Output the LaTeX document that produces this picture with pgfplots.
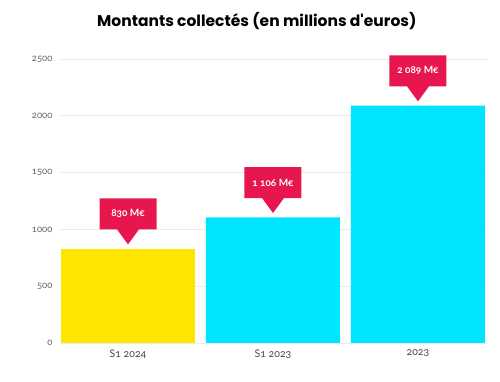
\documentclass[border=0pt]{standalone}
\usepackage{fontspec}
\setmainfont[Numbers=OldStyle]{Lato}
\newfontfamily\titlefont{Poppins}
\usepackage{pgfplots}
\pgfplotsset{compat=1.18}
\usetikzlibrary{shapes.callouts}
\definecolor{cyellow}{HTML}{FFE600}
\definecolor{ccyan}{HTML}{00E5FF}
\definecolor{cred}{HTML}{E8164F}
\definecolor{cgrid}{HTML}{EBEBEB}
\definecolor{ctick}{HTML}{666666}
\begin{document}
\begin{tikzpicture}
\useasboundingbox (-60pt,-39pt) rectangle (440pt,343pt);
\begin{axis}[
  at={(0,0)}, anchor=south west,
  scale only axis, width=427pt, height=284pt,
  xmin=-0.469, xmax=2.476, ymin=0, ymax=2500,
  ytick={0,500,1000,1500,2000,2500},
  xtick={0,1,2}, xticklabels={S1 2024, S1 2023, 2023},
  ymajorgrids, grid style={cgrid, line width=0.6pt},
  axis line style={draw=none},
  major tick length=0pt,
  /pgf/number format/1000 sep={},
  /pgf/number format/assume math mode=true,
  yticklabel style={font=\fontsize{9.5}{10}\selectfont, text=ctick, xshift=-4pt},
  xticklabel style={font=\fontsize{10.5}{11}\selectfont, text=ctick!70!black, yshift=-3pt},
  title={\titlefont\bfseries Montants collectés (en millions d\textquotesingle euros)},
  title style={font=\fontsize{15.5}{17}\selectfont, at={(0.461,1)}, anchor=center, yshift=32pt},
  clip=false,
  point meta=explicit symbolic,
  nodes near coords,
  every node near coord/.append style={
    rectangle callout, fill=cred, text=white,
    font=\fontsize{10}{11}\selectfont\bfseries,
    minimum width=57pt, minimum height=31pt, inner sep=0pt,
    callout relative pointer={(0pt,-15pt)}, callout pointer width=22pt,
    anchor=pointer, yshift=4pt},
]
\addplot[ybar, bar width=134pt, fill=cyellow, draw=none] coordinates {(0,830) [830 M€]};
\addplot[ybar, bar width=134pt, fill=ccyan, draw=none] coordinates {(1,1106) [1 106 M€] (2,2089) [2 089 M€]};
\end{axis}
\end{tikzpicture}
\end{document}
